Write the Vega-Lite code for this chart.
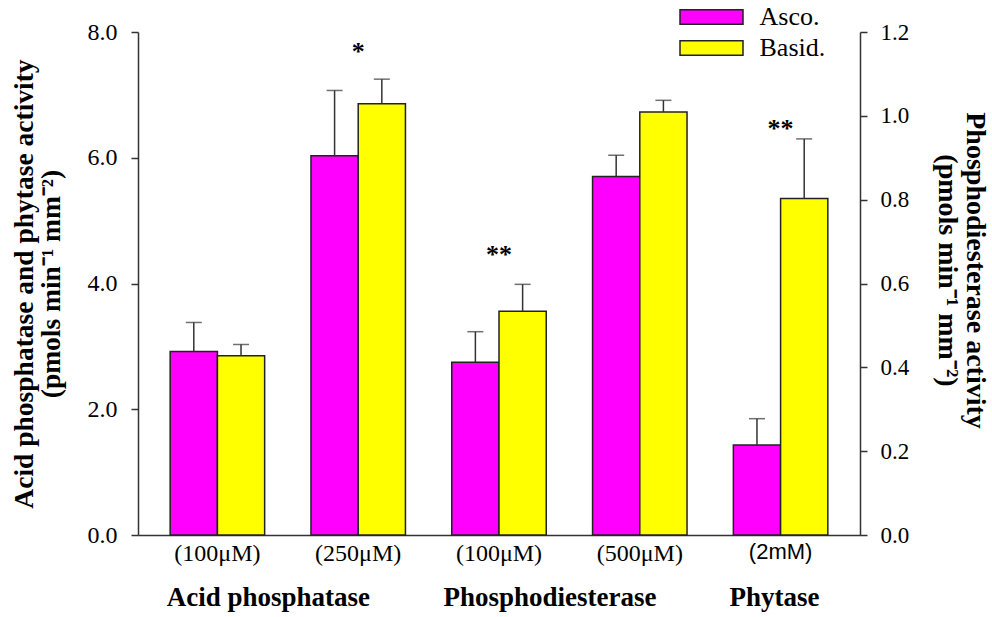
{
  "$schema": "https://vega.github.io/schema/vega-lite/v6.json",
  "width": 722,
  "height": 503,
  "autosize": {"type": "none"},
  "padding": {"left": 138, "top": 32, "right": 132, "bottom": 82},
  "background": "white",
  "config": {
    "view": {"stroke": null},
    "font": "Liberation Serif",
    "axisY": {
      "format": ".1f",
      "grid": false,
      "domainColor": "#333",
      "domainWidth": 1.5,
      "tickColor": "#333",
      "tickWidth": 1.5,
      "tickSize": 7,
      "labelFont": "Liberation Serif",
      "labelColor": "#000",
      "titleFont": "Liberation Serif",
      "titleFontWeight": "bold",
      "titleColor": "#000"
    },
    "axisLeft": {"labelFontSize": 24, "labelPadding": 14, "titlePadding": 22, "titleFontSize": 27.5, "titleLineHeight": 27},
    "axisRight": {"labelFontSize": 23, "labelPadding": 13, "titlePadding": 24, "titleFontSize": 28, "titleLineHeight": 28, "titleY": 238, "titleAlign": "center"}
  },
  "datasets": {
    "left": [
      {"cond": "AP100", "series": "Asco.", "value": 2.92, "err": 3.38},
      {"cond": "AP100", "series": "Basid.", "value": 2.85, "err": 3.03},
      {"cond": "AP250", "series": "Asco.", "value": 6.03, "err": 7.07},
      {"cond": "AP250", "series": "Basid.", "value": 6.86, "err": 7.25},
      {"cond": "PHY2", "series": "Asco.", "value": 1.43, "err": 1.85},
      {"cond": "PHY2", "series": "Basid.", "value": 5.35, "err": 6.3}
    ],
    "right": [
      {"cond": "PD100", "series": "Asco.", "value": 0.412, "err": 0.485},
      {"cond": "PD100", "series": "Basid.", "value": 0.534, "err": 0.598},
      {"cond": "PD500", "series": "Asco.", "value": 0.855, "err": 0.906},
      {"cond": "PD500", "series": "Basid.", "value": 1.009, "err": 1.037}
    ],
    "starsLeft": [
      {"cond": "AP250", "mark": "*", "pos": 7.78},
      {"cond": "PHY2", "mark": "**", "pos": 6.55}
    ],
    "starsRight": [
      {"cond": "PD100", "mark": "**", "pos": 0.682}
    ],
    "groups": [
      {"cond": "AP100", "name": "Acid phosphatase"},
      {"cond": "PD100", "name": "Phosphodiesterase"},
      {"cond": "PHY2", "name": "Phytase"}
    ]
  },
  "encoding": {
    "x": {
      "field": "cond",
      "type": "nominal",
      "sort": null,
      "scale": {"domain": ["AP100", "AP250", "PD100", "PD500", "PHY2"], "paddingInner": 0.329, "paddingOuter": 0.2285},
      "axis": {
        "orient": "bottom",
        "title": null,
        "ticks": false,
        "labelAngle": 0,
        "labelExpr": "({'AP100':'(100μM)','AP250':'(250μM)','PD100':'(100μM)','PD500':'(500μM)','PHY2':'(2mM)'})[datum.value]",
        "labelFont": {"condition": {"test": "datum.value === 'PHY2'", "value": "Liberation Sans"}, "value": "Liberation Serif"},
        "labelFontSize": {"condition": {"test": "datum.value === 'PHY2'", "value": 22}, "value": 24},
        "labelColor": "#000",
        "labelPadding": 6,
        "domainColor": "#333",
        "domainWidth": 1.5
      }
    }
  },
  "layer": [
    {
      "layer": [
        {
          "data": {"name": "left"},
          "mark": {"type": "bar", "stroke": "#222", "strokeWidth": 1.5},
          "encoding": {
            "xOffset": {"field": "series", "type": "nominal", "scale": {"domain": ["Asco.", "Basid."], "paddingInner": 0, "paddingOuter": 0}},
            "y": {
              "field": "value",
              "type": "quantitative",
              "scale": {"domain": [0, 8], "nice": false, "zero": true},
              "axis": {"orient": "left", "values": [0, 2, 4, 6, 8], "title": ["Acid phosphatase and phytase activity", "(pmols min⁻¹ mm⁻²)"]}
            },
            "color": {
              "field": "series",
              "type": "nominal",
              "scale": {"domain": ["Asco.", "Basid."], "range": ["#FF00FF", "#FFFF00"]},
              "legend": {
                "orient": "none",
                "legendX": 560.5,
                "legendY": -28,
                "title": null,
                "symbolType": "M-3.15,-0.735H3.15V0.735H-3.15Z",
                "symbolSize": 400,
                "symbolStrokeColor": "#222",
                "symbolStrokeWidth": 1.5,
                "symbolOpacity": 1,
                "labelFont": "Liberation Serif",
                "labelFontSize": 26,
                "labelColor": "#000",
                "labelOffset": 35,
                "rowPadding": 5
              }
            }
          }
        },
        {
          "data": {"name": "left"},
          "mark": {"type": "rule", "color": "#333", "strokeWidth": 1.5},
          "encoding": {
            "xOffset": {"field": "series", "type": "nominal", "scale": {"domain": ["Asco.", "Basid."], "paddingInner": 0, "paddingOuter": 0}},
            "y": {"field": "value", "type": "quantitative", "axis": {"orient": "left", "values": [0, 2, 4, 6, 8], "title": ["Acid phosphatase and phytase activity", "(pmols min⁻¹ mm⁻²)"]}},
            "y2": {"field": "err"}
          }
        },
        {
          "data": {"name": "left"},
          "mark": {"type": "tick", "color": "#333", "thickness": 1.5, "size": 16},
          "encoding": {
            "xOffset": {"field": "series", "type": "nominal", "scale": {"domain": ["Asco.", "Basid."], "paddingInner": 0, "paddingOuter": 0}},
            "y": {"field": "err", "type": "quantitative", "axis": {"orient": "left", "values": [0, 2, 4, 6, 8], "title": ["Acid phosphatase and phytase activity", "(pmols min⁻¹ mm⁻²)"]}}
          }
        },
        {
          "data": {"name": "starsLeft"},
          "mark": {"type": "text", "font": "Liberation Serif", "fontWeight": "bold", "fontSize": 26, "baseline": "middle", "dy": 6, "color": "#000"},
          "encoding": {
            "y": {"field": "pos", "type": "quantitative", "axis": {"orient": "left", "values": [0, 2, 4, 6, 8], "title": ["Acid phosphatase and phytase activity", "(pmols min⁻¹ mm⁻²)"]}},
            "text": {"field": "mark"}
          }
        },
        {
          "data": {"name": "groups"},
          "transform": [{"filter": "datum.cond !== 'PHY2'"}],
          "mark": {"type": "text", "font": "Liberation Serif", "fontWeight": "bold", "fontSize": 27, "baseline": "middle", "dx": 51, "dy": 63, "color": "#000"},
          "encoding": {
            "y": {"datum": 0, "type": "quantitative", "axis": {"orient": "left", "values": [0, 2, 4, 6, 8], "title": ["Acid phosphatase and phytase activity", "(pmols min⁻¹ mm⁻²)"]}},
            "text": {"field": "name"}
          }
        },
        {
          "data": {"name": "groups"},
          "transform": [{"filter": "datum.cond === 'PHY2'"}],
          "mark": {"type": "text", "font": "Liberation Serif", "fontWeight": "bold", "fontSize": 27, "baseline": "middle", "dx": -6, "dy": 63, "color": "#000"},
          "encoding": {
            "y": {"datum": 0, "type": "quantitative", "axis": {"orient": "left", "values": [0, 2, 4, 6, 8], "title": ["Acid phosphatase and phytase activity", "(pmols min⁻¹ mm⁻²)"]}},
            "text": {"field": "name"}
          }
        }
      ]
    },
    {
      "layer": [
        {
          "data": {"name": "right"},
          "mark": {"type": "bar", "stroke": "#222", "strokeWidth": 1.5},
          "encoding": {
            "xOffset": {"field": "series", "type": "nominal", "scale": {"domain": ["Asco.", "Basid."], "paddingInner": 0, "paddingOuter": 0}},
            "y": {
              "field": "value",
              "type": "quantitative",
              "scale": {"domain": [0, 1.2], "nice": false, "zero": true},
              "axis": {"orient": "right", "values": [0, 0.2, 0.4, 0.6, 0.8, 1.0, 1.2], "title": ["Phosphodiesterase activity", "(pmols min⁻¹ mm⁻²)"]}
            },
            "color": {"field": "series", "type": "nominal"}
          }
        },
        {
          "data": {"name": "right"},
          "mark": {"type": "rule", "color": "#333", "strokeWidth": 1.5},
          "encoding": {
            "xOffset": {"field": "series", "type": "nominal", "scale": {"domain": ["Asco.", "Basid."], "paddingInner": 0, "paddingOuter": 0}},
            "y": {"field": "value", "type": "quantitative", "axis": {"orient": "right", "values": [0, 0.2, 0.4, 0.6, 0.8, 1.0, 1.2], "title": ["Phosphodiesterase activity", "(pmols min⁻¹ mm⁻²)"]}},
            "y2": {"field": "err"}
          }
        },
        {
          "data": {"name": "right"},
          "mark": {"type": "tick", "color": "#333", "thickness": 1.5, "size": 16},
          "encoding": {
            "xOffset": {"field": "series", "type": "nominal", "scale": {"domain": ["Asco.", "Basid."], "paddingInner": 0, "paddingOuter": 0}},
            "y": {"field": "err", "type": "quantitative", "axis": {"orient": "right", "values": [0, 0.2, 0.4, 0.6, 0.8, 1.0, 1.2], "title": ["Phosphodiesterase activity", "(pmols min⁻¹ mm⁻²)"]}}
          }
        },
        {
          "data": {"name": "starsRight"},
          "mark": {"type": "text", "font": "Liberation Serif", "fontWeight": "bold", "fontSize": 26, "baseline": "middle", "dy": 6, "color": "#000"},
          "encoding": {
            "y": {"field": "pos", "type": "quantitative", "axis": {"orient": "right", "values": [0, 0.2, 0.4, 0.6, 0.8, 1.0, 1.2], "title": ["Phosphodiesterase activity", "(pmols min⁻¹ mm⁻²)"]}},
            "text": {"field": "mark"}
          }
        }
      ]
    }
  ],
  "resolve": {"scale": {"y": "independent"}}
}
